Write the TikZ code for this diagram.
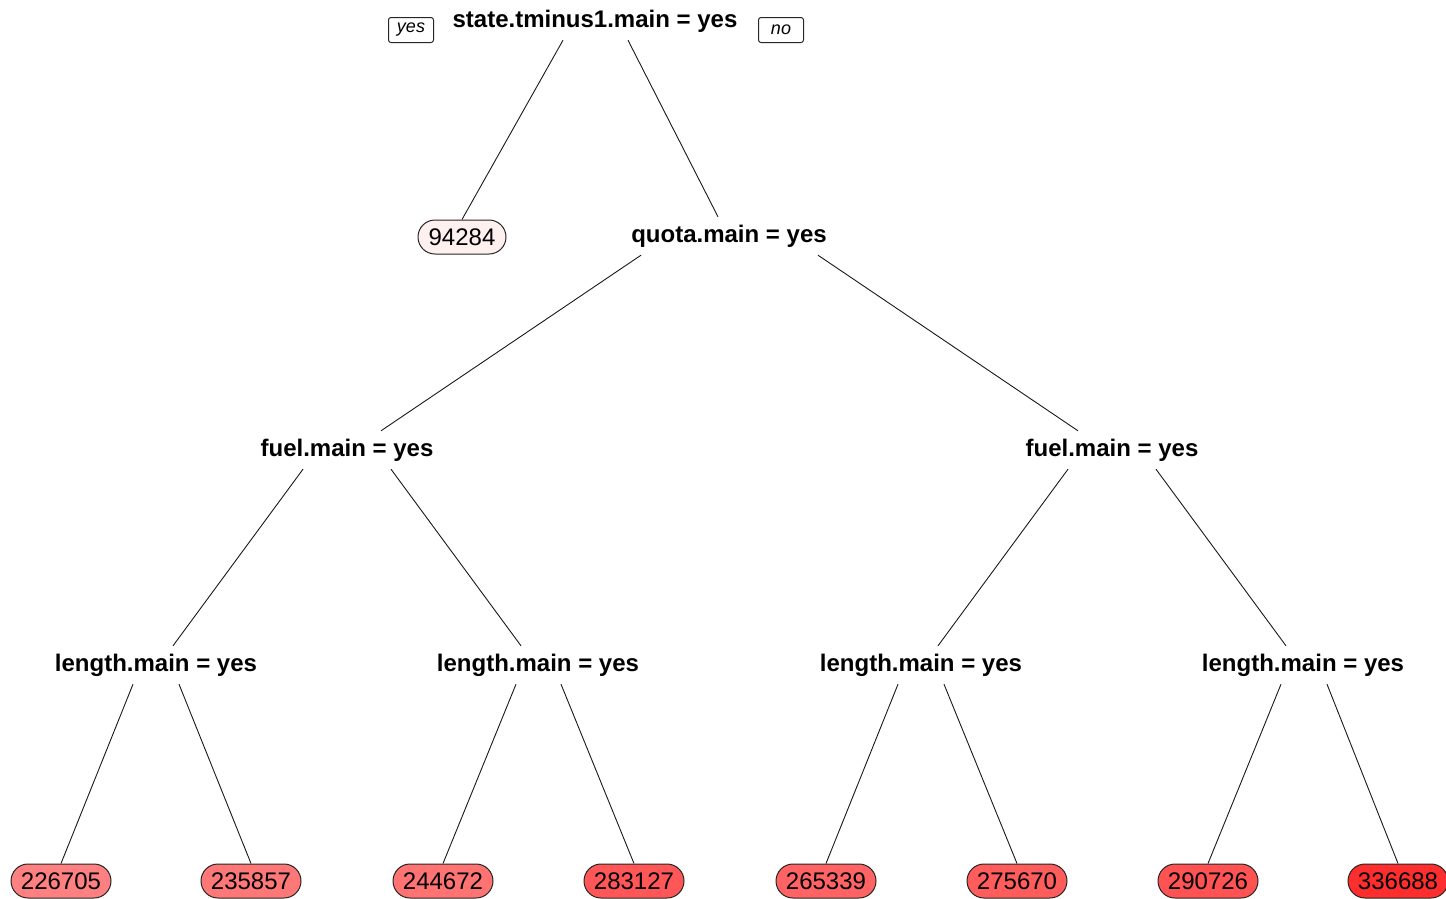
\documentclass[tikz,border=0pt]{standalone}
\usepackage{fontspec}
\setmainfont{Liberation Sans}
\begin{document}
\begin{tikzpicture}[x=1pt,y=-1pt,
  splitnode/.style={rectangle,fill=white,inner sep=0pt,minimum height=38pt,font=\fontsize{24}{28}\selectfont\bfseries},
  leafnode/.style={rectangle,draw=black!85,line width=1pt,rounded corners=17pt,inner sep=0pt,minimum width=100pt,minimum height=34pt,font=\fontsize{24}{28}\selectfont},
  tagnode/.style={rectangle,draw=black!85,line width=1pt,rounded corners=2.5pt,inner sep=0pt,minimum width=45pt,minimum height=25pt,font=\fontsize{18}{20}\selectfont\itshape},
  branch/.style={draw=black!90,line width=0.9pt}]
\useasboundingbox (0,0) rectangle (1446,898);
% split nodes
\node[splitnode] (root) at (595,21) {state.tminus1.main = yes};
\node[tagnode] (yes) at (411,30) {yes};
\node[tagnode] (no) at (781,30) {no};
\node[leafnode,minimum width=88pt,fill=red!6!white] (l0) at (462,237) {94284};
\node[splitnode] (quota) at (729,236) {quota.main = yes};
\node[splitnode] (fuelL) at (347,450) {fuel.main = yes};
\node[splitnode] (fuelR) at (1112,450) {fuel.main = yes};
\node[splitnode] (lenA) at (156,665) {length.main = yes};
\node[splitnode] (lenB) at (538,665) {length.main = yes};
\node[splitnode] (lenC) at (921,665) {length.main = yes};
\node[splitnode] (lenD) at (1303,665) {length.main = yes};
% leaves
\node[leafnode,fill=red!50!white] (l1) at (61,881) {226705};
\node[leafnode,fill=red!53!white] (l2) at (251,881) {235857};
\node[leafnode,fill=red!55!white] (l3) at (443,881) {244672};
\node[leafnode,fill=red!66!white] (l4) at (634,881) {283127};
\node[leafnode,fill=red!61!white] (l5) at (826,881) {265339};
\node[leafnode,fill=red!64!white] (l6) at (1017,881) {275670};
\node[leafnode,fill=red!68!white] (l7) at (1208,881) {290726};
\node[leafnode,fill=red!82!white] (l8) at (1398,881) {336688};
% branches
\draw[branch] ([xshift=-32pt]root.south) -- (l0.north);
\draw[branch] ([xshift=33pt]root.south) -- ([xshift=-11pt]quota.north);
\draw[branch] ([xshift=-88pt]quota.south) -- ([xshift=34pt]fuelL.north);
\draw[branch] ([xshift=89pt]quota.south) -- ([xshift=-34pt]fuelR.north);
\draw[branch] ([xshift=-44pt]fuelL.south) -- ([xshift=17pt]lenA.north);
\draw[branch] ([xshift=44pt]fuelL.south) -- ([xshift=-17pt]lenB.north);
\draw[branch] ([xshift=-44pt]fuelR.south) -- ([xshift=17pt]lenC.north);
\draw[branch] ([xshift=44pt]fuelR.south) -- ([xshift=-17pt]lenD.north);
\draw[branch] ([xshift=-23pt]lenA.south) -- (l1.north);
\draw[branch] ([xshift=23pt]lenA.south) -- (l2.north);
\draw[branch] ([xshift=-22pt]lenB.south) -- (l3.north);
\draw[branch] ([xshift=23pt]lenB.south) -- (l4.north);
\draw[branch] ([xshift=-23pt]lenC.south) -- (l5.north);
\draw[branch] ([xshift=23pt]lenC.south) -- (l6.north);
\draw[branch] ([xshift=-22pt]lenD.south) -- (l7.north);
\draw[branch] ([xshift=24pt]lenD.south) -- (l8.north);
\end{tikzpicture}
\end{document}
